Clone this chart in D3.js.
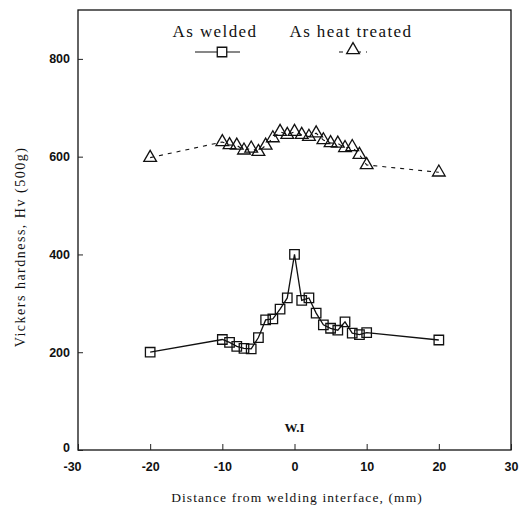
<!DOCTYPE html>
<html>
<head>
<meta charset="utf-8">
<script src="https://cdn.jsdelivr.net/npm/d3@7"></script>
<style>
  body { margin: 0; background: #fff; }
  svg { display: block; }
</style>
</head>
<body>
<svg id="chart" width="522" height="517"></svg>
<script>
// distance from welding interface (mm) and Vickers hardness
const weldedX = [-20, -10, -9, -8, -7, -6, -5, -4, -3, -2, -1, 0, 1, 2, 3, 4, 5, 6, 7, 8, 9, 10, 20];
const weldedY = [200, 226, 220, 212, 208, 207, 230, 266, 268, 288, 311, 400, 306, 311, 280, 256, 249, 245, 262, 239, 236, 240, 225];

const heatX = [-20, -10, -9, -8, -7, -6, -5, -4, -3, -2, -1, 0, 1, 2, 3, 4, 5, 6, 7, 8, 9, 10, 20];
const heatY = [598, 630, 624, 623, 613, 617, 610, 623, 638, 651, 645, 651, 645, 641, 648, 634, 628, 627, 618, 620, 604, 583, 568];

const xTicks = [-30, -20, -10, 0, 10, 20, 30];
const yTicks = [0, 200, 400, 600, 800];

const width = 522, height = 517;
const margin = {top: 10, left: 78, right: 11, bottom: 67};

const svg = d3.select("#chart");

const x = d3.scaleLinear().domain([-30, 30]).range([margin.left, width - margin.right]);
const y = d3.scaleLinear().domain([0, 900]).range([height - margin.bottom, margin.top]);

// frame
svg.append("rect")
  .attr("x", x(-30)).attr("y", y(900))
  .attr("width", x(30) - x(-30)).attr("height", y(0) - y(900))
  .attr("fill", "none").attr("stroke", "#111").attr("stroke-width", 1.3);

// axes with inward ticks
const xAxis = svg.append("g")
  .attr("transform", `translate(0,${y(0)})`)
  .call(d3.axisBottom(x).tickValues(xTicks).tickSize(-6).tickPadding(12)
    .tickFormat(d => d < 0 ? "-" + Math.abs(d) : d));
const yAxis = svg.append("g")
  .attr("transform", `translate(${x(-30)},0)`)
  .call(d3.axisLeft(y).tickValues(yTicks).tickSize(-5).tickPadding(8));

[xAxis, yAxis].forEach(g => {
  g.select(".domain").remove();
  g.selectAll("line").attr("stroke", "#222");
  g.selectAll("text")
    .attr("font-family", "Liberation Sans, Arial, sans-serif")
    .attr("font-size", 12.5)
    .attr("font-weight", "bold")
    .attr("fill", "#111");
});
xAxis.selectAll(".tick").filter(d => d === -30).select("text").attr("dx", -6);
yAxis.selectAll(".tick").filter(d => d === 0).select("text").attr("dy", "0.1em");

// axis titles
svg.append("text")
  .attr("x", 297).attr("y", 502)
  .attr("text-anchor", "middle")
  .attr("font-family", "Liberation Serif, serif")
  .attr("font-size", 13.5)
  .attr("letter-spacing", 1.1)
  .attr("fill", "#111")
  .text("Distance from welding interface, (mm)");

svg.append("text")
  .attr("transform", "translate(25,247) rotate(-90)")
  .attr("text-anchor", "middle")
  .attr("font-family", "Liberation Serif, serif")
  .attr("font-size", 14)
  .attr("letter-spacing", 1.5)
  .attr("fill", "#111")
  .text("Vickers hardness, Hv (500g)");

svg.append("text")
  .attr("x", x(0)).attr("y", 432)
  .attr("text-anchor", "middle")
  .attr("font-family", "Liberation Serif, serif")
  .attr("font-size", 13)
  .attr("font-weight", "bold")
  .attr("fill", "#111")
  .text("W.I");

const welded = weldedX.map((d, i) => [d, weldedY[i]]);
const heat = heatX.map((d, i) => [d, heatY[i]]);

const line = d3.line().x(d => x(d[0])).y(d => y(d[1]));

svg.append("path")
  .datum(heat)
  .attr("d", line)
  .attr("fill", "none")
  .attr("stroke", "#111")
  .attr("stroke-width", 1.1)
  .attr("stroke-dasharray", "4,5");

svg.append("path")
  .datum(welded)
  .attr("d", line)
  .attr("fill", "none")
  .attr("stroke", "#111")
  .attr("stroke-width", 1.3);

const tri = d3.symbol().type(d3.symbolTriangle).size(70);
const sq = d3.symbol().type(d3.symbolSquare).size(90);

svg.append("g").selectAll("path")
  .data(heat)
  .join("path")
  .attr("transform", d => `translate(${x(d[0])},${y(d[1])})`)
  .attr("d", tri)
  .attr("fill", "none")
  .attr("stroke", "#111")
  .attr("stroke-width", 1.3);

svg.append("g").selectAll("path")
  .data(welded)
  .join("path")
  .attr("transform", d => `translate(${x(d[0])},${y(d[1])})`)
  .attr("d", sq)
  .attr("fill", "none")
  .attr("stroke", "#111")
  .attr("stroke-width", 1.3);

// legend
const legend = svg.append("g");
const legendItems = [
  {label: "As welded", tx: 215, sx: 222, sym: sq, dash: null},
  {label: "As heat treated", tx: 351, sx: 353, sym: tri, dash: "4,5"}
];
legendItems.forEach(it => {
  legend.append("text")
    .attr("x", it.tx).attr("y", 37)
    .attr("text-anchor", "middle")
    .attr("font-family", "Liberation Serif, serif")
    .attr("font-size", 17)
    .attr("letter-spacing", 1.4)
    .attr("fill", "#111")
    .text(it.label);
  legend.append("line")
    .attr("x1", it.dash ? it.sx - 14 : it.sx - 27)
    .attr("x2", it.dash ? it.sx + 14 : it.sx + 18)
    .attr("y1", 52).attr("y2", 52)
    .attr("stroke", "#111")
    .attr("stroke-width", 1.2)
    .attr("stroke-dasharray", it.dash);
  legend.append("path")
    .attr("transform", `translate(${it.sx},${it.dash ? 50 : 52})`)
    .attr("d", it.sym)
    .attr("fill", "#fff")
    .attr("stroke", "#111")
    .attr("stroke-width", 1.3);
});
</script>
</body>
</html>
